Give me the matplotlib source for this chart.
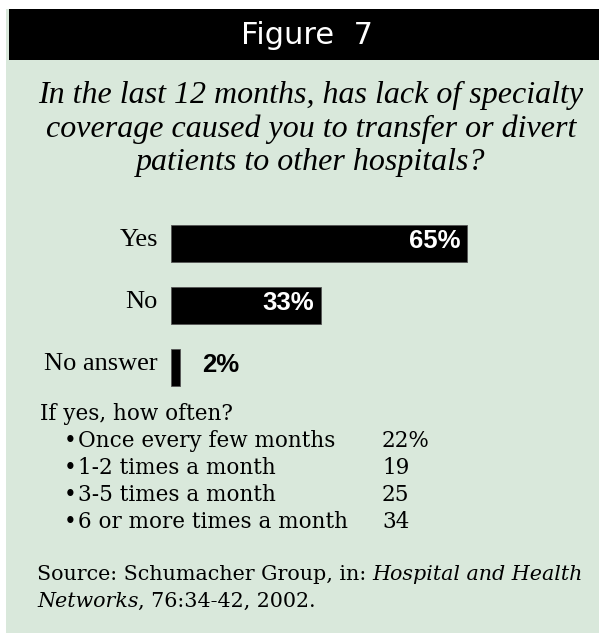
import matplotlib
matplotlib.use("Agg")
import matplotlib.pyplot as plt
from matplotlib.patches import Rectangle

W, H = 599, 633

answers = ["Yes", "No", "No answer"]
shares = [65, 33, 2]

freq_labels = ["Once every few months", "1-2 times a month",
               "3-5 times a month", "6 or more times a month"]
freq_values = ["22%", "19", "25", "34"]

green = "#d9e8db"

fig = plt.figure(figsize=(W / 100, H / 100), dpi=100)
fig.patch.set_facecolor("white")

# page layer in pixel units
ax = fig.add_axes([0, 0, 1, 1])
ax.set_xlim(0, W)
ax.set_ylim(H, 0)
ax.axis("off")

ax.add_patch(Rectangle((6, 9), W - 6, H - 9, color=green, lw=0))
ax.add_patch(Rectangle((9, 9), W - 9, 51, color="black", lw=0))
ax.text(307, 35, "Figure  7", color="white", fontsize=22, ha="center",
        va="center", family="DejaVu Sans")

question = ("In the last 12 months, has lack of specialty\n"
            "coverage caused you to transfer or divert\n"
            "patients to other hospitals?")
ax.text(311, 81, question, fontsize=23, style="italic", ha="center",
        va="top", family="Liberation Serif", linespacing=1.2,
        multialignment="center")

# bars
px_per_pct = 296 / 65
bar_left = 171
bar_w = 400
top, bottom = 212.5, 398.5
bx = fig.add_axes([bar_left / W, 1 - bottom / H, bar_w / W, (bottom - top) / H])
bx.set_xlim(0, bar_w / px_per_pct)
bx.set_ylim(2.5, -0.5)
bx.axis("off")
ypos = range(len(answers))
bx.barh(ypos, shares, height=0.6, color="black", edgecolor="#555555", lw=0.6)
for i, (lab, v) in enumerate(zip(answers, shares)):
    bx.annotate(lab, (0, i), xytext=(-13, 3), textcoords="offset pixels",
                ha="right", va="center", fontsize=19, family="Liberation Serif")
    if v > 10:
        bx.annotate(f"{v}%", (v, i), xytext=(-7, 3), textcoords="offset pixels",
                    ha="right", va="center", fontsize=18.5, weight="bold",
                    color="white", family="Liberation Sans")
    else:
        bx.annotate(f"{v}%", (v, i), xytext=(22, 3), textcoords="offset pixels",
                    ha="left", va="center", fontsize=18.5, weight="bold",
                    color="black", family="Liberation Sans")

# follow-up breakdown
serif = "DejaVu Serif"
fs = 15.5
ax.text(40, 420, "If yes, how often?", fontsize=fs, family=serif, va="baseline")
for k, (lab, val) in enumerate(zip(freq_labels, freq_values)):
    yb = 447 + k * 27
    ax.text(64, yb, "\u2022", fontsize=fs, family=serif, va="baseline")
    ax.text(78, yb, lab, fontsize=fs, family=serif, va="baseline")
    ax.text(382, yb, val, fontsize=fs, family=serif, va="baseline")

# source line with italic journal name
renderer = fig.canvas.get_renderer()
inv = ax.transData.inverted()


def put(x, y, s, **kw):
    t = ax.text(x, y, s, fontsize=14.9, family=serif, va="baseline", **kw)
    bb = t.get_window_extent(renderer)
    return inv.transform((bb.x1, bb.y0))[0]


x = put(37, 580, "Source: Schumacher Group, in: ")
put(x, 580, "Hospital and Health", style="italic")
x = put(37, 607, "Networks", style="italic")
put(x, 607, ", 76:34-42, 2002.")

fig.savefig("out.png", dpi=100, facecolor=fig.get_facecolor())
